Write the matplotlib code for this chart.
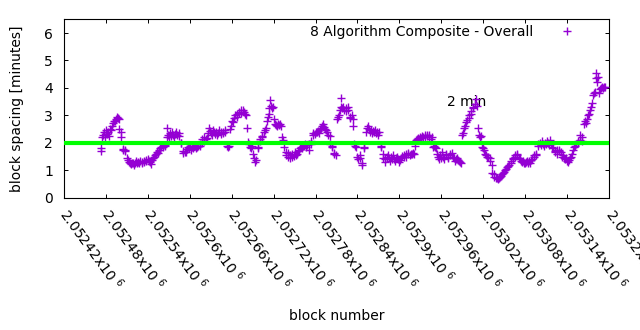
import numpy as np
import matplotlib
matplotlib.use("Agg")
import matplotlib.pyplot as plt

plt.rcParams["font.family"] = ["DejaVu Sans"]
plt.rcParams["mathtext.fontset"] = "dejavusans"

# ----------------------------------
# Data
# ----------------------------------
block_base = 2052420
block_offset = [
    53, 53, 54, 56, 57, 58, 60, 61, 63, 64,
    66, 67, 69, 70, 72, 73, 75, 76, 77, 78,
    79, 81, 82, 84, 85, 87, 88, 90, 91, 93,
    94, 96, 97, 99, 100, 102, 103, 105, 106, 108,
    109, 111, 112, 114, 115, 117, 118, 120, 121, 123,
    124, 126, 127, 129, 130, 132, 133, 135, 136, 138,
    139, 141, 142, 144, 145, 147, 147, 149, 150, 152,
    153, 155, 156, 158, 159, 161, 162, 164, 165, 167,
    168, 170, 171, 173, 174, 176, 177, 179, 180, 182,
    183, 185, 186, 188, 189, 191, 192, 194, 195, 197,
    198, 200, 201, 203, 204, 206, 207, 209, 210, 212,
    213, 215, 216, 218, 219, 221, 222, 224, 225, 227,
    228, 230, 231, 233, 235, 236, 238, 239, 241, 242,
    244, 245, 247, 248, 250, 251, 253, 254, 256, 257,
    259, 260, 262, 263, 265, 266, 268, 269, 271, 272,
    274, 275, 277, 278, 280, 281, 283, 284, 286, 287,
    289, 290, 292, 293, 294, 295, 296, 298, 299, 300,
    302, 303, 305, 306, 308, 309, 311, 312, 314, 315,
    317, 318, 320, 321, 323, 324, 326, 327, 329, 330,
    332, 333, 335, 336, 338, 339, 341, 342, 344, 345,
    347, 348, 350, 351, 353, 354, 356, 357, 359, 360,
    362, 363, 365, 366, 368, 369, 371, 372, 374, 375,
    377, 378, 380, 381, 383, 384, 386, 387, 389, 390,
    392, 393, 395, 396, 397, 398, 400, 401, 403, 404,
    406, 407, 409, 410, 412, 413, 414, 415, 417, 418,
    420, 421, 423, 424, 426, 427, 429, 430, 432, 433,
    435, 436, 438, 439, 441, 442, 444, 445, 447, 448,
    450, 451, 453, 454, 456, 457, 459, 460, 462, 463,
    465, 466, 468, 469, 471, 472, 474, 475, 477, 478,
    480, 481, 483, 484, 486, 487, 489, 490, 492, 493,
    495, 496, 498, 499, 501, 502, 504, 505, 507, 508,
    510, 511, 513, 514, 516, 517, 519, 520, 522, 523,
    525, 526, 528, 529, 531, 532, 534, 535, 537, 538,
    540, 541, 543, 544, 546, 547, 549, 550, 552, 553,
    555, 556, 558, 559, 561, 562, 564, 565, 567, 568,
    570, 571, 573, 574, 576, 577, 579, 580, 582, 583,
    585, 586, 588, 589, 591, 592, 594, 595, 597, 598,
    600, 601, 603, 604, 606, 607, 609, 610, 612, 613,
    615, 616, 618, 619, 621, 622, 624, 625, 627, 628,
    630, 631, 633, 634, 636, 637, 639, 640, 642, 643,
    645, 646, 648, 649, 651, 652, 654, 655, 657, 658,
    660, 661, 663, 664, 666, 667, 669, 670, 672, 673,
    675, 676, 678, 679, 681, 682, 684, 685, 687, 688,
    690, 691, 693, 694, 696, 697, 699, 700, 702, 703,
    705, 706, 708, 709, 711, 712, 714, 715, 717, 718,
    720, 721, 723, 724, 726, 727, 729, 730, 732, 733,
    735, 736, 738, 739, 741, 742, 744, 745, 747, 748,
    750, 751, 753, 754, 756, 757, 759, 760, 761, 762,
    763, 764, 765, 767, 768, 770, 771, 773, 774,
]
spacing_min = [
    1.70, 1.82, 2.22, 2.28, 2.40, 2.20, 2.45, 2.32, 2.38, 2.25,
    2.52, 2.45, 2.62, 2.72, 2.80, 2.78, 2.88, 2.95, 2.90, 2.85,
    2.50, 2.38, 2.22, 1.78, 1.72, 1.75, 1.70, 1.45, 1.38, 1.30,
    1.25, 1.22, 1.28, 1.25, 1.20, 1.28, 1.32, 1.25, 1.30, 1.27,
    1.35, 1.30, 1.26, 1.34, 1.30, 1.38, 1.32, 1.40, 1.35, 1.30,
    1.22, 1.38, 1.45, 1.50, 1.55, 1.60, 1.65, 1.62, 1.75, 1.80,
    1.85, 1.88, 1.85, 1.92, 1.90, 2.20, 2.55, 2.30, 2.22, 2.35,
    2.25, 2.38, 2.28, 2.22, 2.32, 2.40, 2.30, 2.35, 2.25, 2.00,
    1.98, 1.70, 1.62, 1.68, 1.65, 1.78, 1.85, 1.80, 1.88, 1.75,
    1.85, 1.82, 1.90, 1.88, 1.80, 1.85, 1.90, 1.88, 1.95, 2.00,
    2.15, 2.08, 2.20, 2.12, 2.18, 2.35, 2.55, 2.42, 2.35, 2.30,
    2.45, 2.38, 2.32, 2.40, 2.28, 2.35, 2.45, 2.38, 2.32, 2.40,
    2.35, 2.45, 2.38, 1.90, 1.85, 1.88, 2.50, 2.62, 2.80, 2.75,
    2.90, 3.00, 3.05, 2.95, 3.10, 3.12, 3.18, 3.10, 3.20, 3.12,
    3.05, 3.00, 2.55, 2.02, 1.95, 1.85, 1.80, 1.88, 1.60, 1.45,
    1.30, 1.38, 1.85, 1.80, 2.05, 2.15, 2.25, 2.20, 2.40, 2.45,
    2.55, 2.80, 2.95, 3.05, 3.25, 3.55, 3.35, 3.25, 3.30, 2.85,
    2.70, 2.65, 2.60, 2.68, 2.65, 2.70, 2.62, 2.20, 2.10, 1.85,
    1.65, 1.55, 1.50, 1.62, 1.45, 1.55, 1.48, 1.60, 1.52, 1.65,
    1.55, 1.60, 1.70, 1.75, 1.80, 1.85, 1.82, 1.90, 1.88, 1.95,
    1.85, 1.92, 1.95, 1.75, 1.95, 2.05, 2.30, 2.35, 2.32, 2.40,
    2.38, 2.42, 2.35, 2.50, 2.55, 2.62, 2.70, 2.58, 2.50, 2.45,
    2.38, 2.30, 2.25, 1.95, 1.90, 1.85, 1.60, 1.62, 1.55, 2.85,
    2.95, 3.00, 3.20, 3.30, 3.65, 3.25, 3.30, 3.20, 3.25, 3.15,
    3.30, 3.20, 2.95, 2.90, 3.00, 2.85, 2.60, 1.95, 1.90, 1.85,
    1.50, 1.40, 1.55, 1.45, 1.20, 1.25, 1.85, 1.80, 2.40, 2.55,
    2.60, 2.50, 2.40, 2.45, 2.35, 2.42, 2.38, 2.45, 2.35, 2.40,
    2.30, 2.38, 1.85, 1.90, 1.60, 1.45, 1.30, 1.40, 1.50, 1.55,
    1.45, 1.35, 1.50, 1.42, 1.55, 1.40, 1.35, 1.45, 1.50, 1.40,
    1.30, 1.38, 1.45, 1.52, 1.48, 1.55, 1.60, 1.50, 1.60, 1.62,
    1.55, 1.60, 1.58, 1.62, 1.60, 1.90, 2.10, 2.12, 2.18, 2.15,
    2.22, 2.18, 2.25, 2.20, 2.28, 2.22, 2.30, 2.25, 2.20, 2.28,
    2.15, 2.20, 1.85, 1.90, 1.85, 1.80, 1.60, 1.50, 1.40, 1.55,
    1.45, 1.65, 1.50, 1.40, 1.55, 1.60, 1.50, 1.45, 1.60, 1.55,
    1.62, 1.50, 1.45, 1.35, 1.40, 1.45, 1.38, 1.32, 1.30, 1.28,
    2.30, 2.35, 2.55, 2.62, 2.75, 2.82, 2.90, 3.00, 3.05, 3.15,
    3.25, 3.30, 3.40, 3.60, 3.35, 2.55, 2.30, 2.20, 2.25, 1.85,
    1.80, 1.75, 1.60, 1.55, 1.50, 1.48, 1.45, 1.35, 1.20, 0.90,
    0.85, 0.75, 0.70, 0.72, 0.68, 0.72, 0.75, 0.80, 0.85, 0.90,
    0.95, 1.00, 1.05, 1.10, 1.15, 1.20, 1.28, 1.35, 1.40, 1.45,
    1.50, 1.55, 1.60, 1.55, 1.45, 1.40, 1.35, 1.30, 1.32, 1.28,
    1.25, 1.30, 1.35, 1.28, 1.32, 1.25, 1.38, 1.42, 1.55, 1.50,
    1.60, 1.55, 1.90, 1.95, 2.00, 1.92, 2.05, 1.95, 1.90, 2.00,
    1.95, 2.05, 2.00, 1.92, 2.10, 1.95, 1.85, 1.80, 1.70, 1.65,
    1.75, 1.60, 1.70, 1.72, 1.65, 1.50, 1.55, 1.45, 1.40, 1.45,
    1.35, 1.30, 1.38, 1.45, 1.50, 1.60, 1.75, 1.85, 1.90, 1.95,
    2.00, 2.05, 2.10, 2.30, 2.20, 2.05, 2.70, 2.78, 2.72, 2.85,
    3.00, 3.05, 3.20, 3.30, 3.45, 3.75, 3.80, 3.85, 4.35, 4.55,
    4.20, 4.40, 3.80, 3.95, 4.00, 4.05, 3.98, 4.02, 4.05,
]
assert len(block_offset) == len(spacing_min)

target_minutes = 2
x_ticks = [2052420 + 60 * i for i in range(14)]
x_tick_mantissa = [
    "2.05242", "2.05248", "2.05254", "2.0526", "2.05266", "2.05272", "2.05278",
    "2.05284", "2.0529", "2.05296", "2.05302", "2.05308", "2.05314", "2.0532",
]
y_ticks = [0, 1, 2, 3, 4, 5, 6]

blocks = block_base + np.array(block_offset)

# ----------
# Draw chart
# ----------
fig = plt.figure(figsize=(6.4, 3.3), dpi=100)
ax = fig.add_axes([0.1, 0.401, 0.8516, 0.5405])

ax.plot(blocks, spacing_min, linestyle="none", marker="+", markersize=6.0,
        markeredgewidth=1.0, color="#9400d3", zorder=3,
        label="8 Algorithm Composite - Overall")
ax.axhline(target_minutes, color="#00ff00", linewidth=3.0, zorder=4)
ax.text(2052968, 3.5, "2 min", fontsize=10, ha="left", va="center", zorder=2)

ax.set_xlim(x_ticks[0], x_ticks[-1])
ax.set_ylim(0, 6.5)
ax.set_yticks(y_ticks)
ax.set_xticks(x_ticks)
ax.set_xticklabels([m + r"x10 $^{6}$" for m in x_tick_mantissa])
ax.tick_params(direction="in", length=3, width=0.7, top=True, right=True,
               labelsize=10, colors="black")
ax.tick_params(axis="y", pad=8)
ax.tick_params(axis="x", pad=9)
for lab in ax.get_xticklabels():
    lab.set_rotation(-54)
    lab.set_ha("left")
    lab.set_va("center")
    lab.set_rotation_mode("anchor")
for s in ax.spines.values():
    s.set_linewidth(0.8)

ax.set_ylabel("block spacing [minutes]", fontsize=10, va="center")
ax.yaxis.set_label_coords(-0.086, 0.5)
ax.set_xlabel("block number", fontsize=10, va="center")
ax.xaxis.set_label_coords(0.5, -0.663)

ax.legend(loc="upper right", bbox_to_anchor=(0.9486, 0.97), markerfirst=False,
          frameon=False, fontsize=10, borderpad=0, borderaxespad=0,
          handlelength=2, handletextpad=1.44)

fig.savefig("out.png", dpi=100)
